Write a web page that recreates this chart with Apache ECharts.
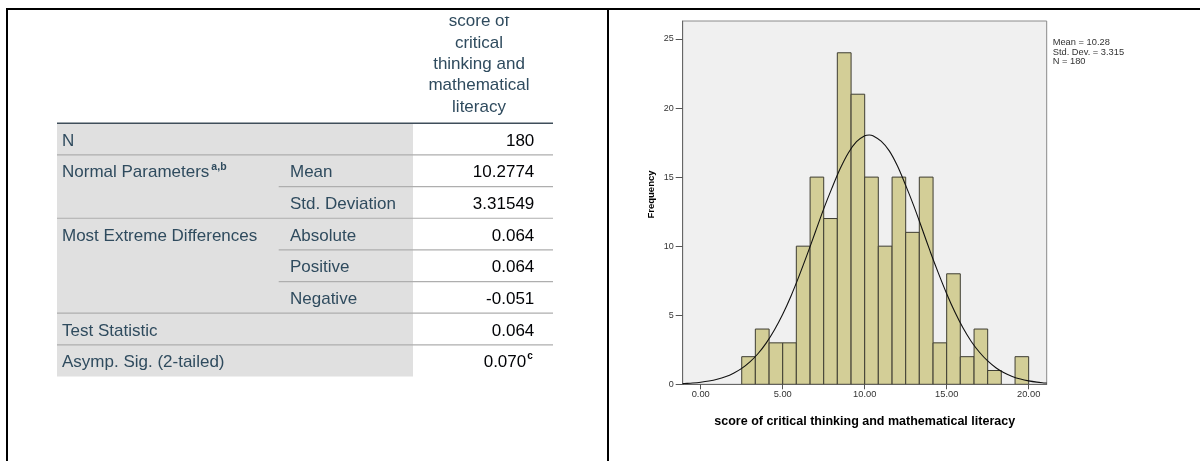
<!DOCTYPE html>
<html>
<head>
<meta charset="utf-8">
<script src="https://cdn.jsdelivr.net/npm/echarts@6/dist/echarts.min.js"></script>
<style>
  html, body { margin: 0; padding: 0; background: #fff; }
  #chart { width: 1200px; height: 461px; }
</style>
</head>
<body>
<div id="chart"></div>
<script>
// ---------- Table data ----------
const headerLines = ['score of', 'critical', 'thinking and', 'mathematical', 'literacy'];
const rowLabels = ['N', 'Normal Parameters', '', 'Most Extreme Differences', '', '', 'Test Statistic', 'Asymp. Sig. (2-tailed)'];
const rowLabelSup = ['', 'a,b', '', '', '', '', '', ''];
const subLabels = ['', 'Mean', 'Std. Deviation', 'Absolute', 'Positive', 'Negative', '', ''];
const rowValues = ['180', '10.2774', '3.31549', '0.064', '0.064', '-0.051', '0.064', '0.070'];
const rowValueSup = ['', '', '', '', '', '', '', 'c'];
const rowLineType = ['full', 'sub', 'full', 'sub', 'sub', 'full', 'full', 'none'];

// ---------- Histogram data ----------
const binEdges = [2.5, 3.33, 4.17, 5.0, 5.83, 6.67, 7.5, 8.33, 9.17, 10.0, 10.83, 11.67,
                  12.5, 13.33, 14.17, 15.0, 15.83, 16.67, 17.5, 18.33, 19.17, 20.0];
const binCounts = [2, 4, 3, 3, 10, 15, 12, 24, 21, 15, 10, 15, 11, 15, 3, 8, 2, 4, 1, 0, 2];
const curveX = [-1.1, -1, -0.5, 0, 0.5, 1, 1.5, 2, 2.5, 3, 3.5, 4, 4.5, 5, 5.5, 6, 6.5, 7, 7.5, 8, 8.5, 9, 9.5,
                10, 10.28, 10.5, 11, 11.5, 12, 12.5, 13, 13.5, 14, 14.5, 15, 15.5, 16, 16.5, 17, 17.5, 18, 18.5,
                19, 19.5, 20, 20.5, 21, 21.1];
const curveY = [0.047, 0.055, 0.091, 0.147, 0.233, 0.36, 0.54, 0.80, 1.15, 1.62, 2.23, 3.0, 3.95, 5.07, 6.38,
                7.85, 9.42, 11.06, 12.7, 14.2, 15.6, 16.75, 17.56, 17.99, 18.05, 18.0, 17.6, 16.9, 15.8, 14.4,
                12.9, 11.26, 9.6, 8.03, 6.56, 5.23, 4.07, 3.1, 2.32, 1.69, 1.2, 0.83, 0.57, 0.377, 0.245,
                0.156, 0.097, 0.084];
const xTickValues = [0, 5, 10, 15, 20];
const yTickValues = [0, 5, 10, 15, 20, 25];
const statsLines = ['Mean = 10.28', 'Std. Dev. = 3.315', 'N = 180'];
const xAxisTitle = 'score of critical thinking and mathematical literacy';
const yAxisTitle = 'Frequency';

// ---------- Build table graphics ----------
const FONT = '"Liberation Sans", Arial, sans-serif';
const T = { left: 57, right: 553, valLeft: 413, subLeft: 278.7, headBottom: 123.3, rowH: 31.65,
            col1X: 62, col2X: 290, valRight: 534.3, headCX: 479 };
const labelColor = '#2f4b5e';
const g = [];

// gray label area
g.push({ type: 'rect', shape: { x: T.left, y: T.headBottom, width: T.valLeft - T.left, height: T.rowH * rowLabels.length },
         style: { fill: '#e0e0e0' }, z: 1 });

// header text
headerLines.forEach((s, i) => {
  g.push({ type: 'text', x: T.headCX, y: 21.7 + i * 21.3, z: 3,
    style: { text: s, fill: labelColor, font: '17px ' + FONT, align: 'center', verticalAlign: 'middle' } });
});
// clip top of header (cut-off look)
g.push({ type: 'rect', shape: { x: 410, y: 10, width: 140, height: 6.5 }, style: { fill: '#fff' }, z: 4 });

// header bottom line
g.push({ type: 'line', shape: { x1: T.left, y1: T.headBottom, x2: T.right, y2: T.headBottom },
         style: { stroke: '#3f4e5a', lineWidth: 1.5 }, z: 3 });

rowLabels.forEach((lab, i) => {
  const top = T.headBottom + i * T.rowH;
  const cy = top + T.rowH / 2 + 2;
  if (lab) {
    g.push({ type: 'text', x: T.col1X, y: cy, z: 3,
      style: { text: rowLabelSup[i] ? '{m|' + lab + '}{s|' + rowLabelSup[i] + '}' : '{m|' + lab + '}',
        align: 'left', verticalAlign: 'middle',
        rich: { m: { font: '17px ' + FONT, fill: labelColor, lineHeight: 22 },
                s: { font: 'bold 10.5px ' + FONT, fill: labelColor, verticalAlign: 'top', lineHeight: 10, padding: [0, 0, 0, 2] } } } });
  }
  if (subLabels[i]) {
    g.push({ type: 'text', x: T.col2X, y: cy, z: 3,
      style: { text: subLabels[i], fill: labelColor, font: '17px ' + FONT, align: 'left', verticalAlign: 'middle' } });
  }
  g.push({ type: 'text', x: rowValueSup[i] ? T.valRight - 1.5 : T.valRight, y: cy, z: 3,
    style: { text: rowValueSup[i] ? '{m|' + rowValues[i] + '}{s|' + rowValueSup[i] + '}' : '{m|' + rowValues[i] + '}',
      align: 'right', verticalAlign: 'middle',
      rich: { m: { font: '17px ' + FONT, fill: '#010205', lineHeight: 22 },
              s: { font: 'bold 10px ' + FONT, fill: '#010205', verticalAlign: 'top', lineHeight: 10, padding: [0, 0, 0, 1] } } } });
  const by = top + T.rowH;
  if (rowLineType[i] === 'full') {
    g.push({ type: 'line', shape: { x1: T.left, y1: by, x2: T.right, y2: by }, style: { stroke: '#aeaeae', lineWidth: 1.2 }, z: 3 });
  } else if (rowLineType[i] === 'sub') {
    g.push({ type: 'line', shape: { x1: T.subLeft, y1: by, x2: T.right, y2: by }, style: { stroke: '#aeaeae', lineWidth: 1.2 }, z: 3 });
  }
});

// frame lines of the page
g.push({ type: 'line', shape: { x1: 6, y1: 9, x2: 1200, y2: 9 }, style: { stroke: '#000', lineWidth: 2 }, z: 10 });
g.push({ type: 'line', shape: { x1: 7, y1: 8, x2: 7, y2: 461 }, style: { stroke: '#000', lineWidth: 2 }, z: 10 });
g.push({ type: 'line', shape: { x1: 608, y1: 8, x2: 608, y2: 461 }, style: { stroke: '#000', lineWidth: 2 }, z: 10 });

// stats text
statsLines.forEach((s, i) => {
  g.push({ type: 'text', x: 1052.7, y: 42.7 + i * 9.5, z: 3,
    style: { text: s, fill: '#333', font: '9.3px ' + FONT, align: 'left', verticalAlign: 'middle' } });
});
// y axis title
g.push({ type: 'text', x: 651, y: 194.5, rotation: Math.PI / 2, z: 3,
  style: { text: yAxisTitle, fill: '#000', font: 'bold 9.5px ' + FONT, align: 'center', verticalAlign: 'middle' } });

// ---------- Histogram ----------
const barData = binCounts.map((c, i) => [binEdges[i], binEdges[i + 1], c]);
const curveData = curveX.map((x, i) => [x, curveY[i]]);

const chart = echarts.init(document.getElementById('chart'), null, { renderer: 'canvas' });
chart.setOption({
  animation: false,
  backgroundColor: '#fff',
  grid: { left: 682.7, top: 21, right: 153.3, bottom: 76.7, show: true, backgroundColor: '#f0f0f0',
          borderColor: '#8a8a8a', borderWidth: 1, containLabel: false },
  xAxis: {
    type: 'value', min: -1.1, max: 21.1,
    name: xAxisTitle, nameLocation: 'middle', nameGap: 31,
    nameTextStyle: { fontFamily: FONT, fontWeight: 'bold', fontSize: 12.5, color: '#000' },
    axisLine: { show: true, onZero: false, lineStyle: { color: '#666', width: 1 } },
    axisTick: { show: true, length: 5, customValues: xTickValues, lineStyle: { color: '#555' } },
    axisLabel: { customValues: xTickValues, formatter: v => v.toFixed(2), margin: 6,
                 fontFamily: FONT, fontSize: 9.3, color: '#333' },
    splitLine: { show: false }
  },
  yAxis: {
    type: 'value', min: 0, max: 26.3,
    axisLine: { show: true, onZero: false, lineStyle: { color: '#666', width: 1 } },
    axisTick: { show: true, length: 7, customValues: yTickValues, lineStyle: { color: '#555' } },
    axisLabel: { customValues: yTickValues, margin: 9, fontFamily: FONT, fontSize: 9, color: '#333' },
    splitLine: { show: false }
  },
  graphic: { elements: g },
  series: [
    {
      type: 'custom',
      data: barData,
      encode: { x: [0, 1], y: 2 },
      clip: true,
      renderItem: function (params, api) {
        const c = api.value(2);
        if (!c) return null;
        const p0 = api.coord([api.value(0), c]);
        const p1 = api.coord([api.value(1), 0]);
        return { type: 'rect',
          shape: { x: p0[0], y: p0[1], width: p1[0] - p0[0], height: p1[1] - p0[1] },
          style: { fill: '#d3ce97', stroke: '#3e3d32', lineWidth: 1 } };
      },
      z: 2
    },
    {
      type: 'line',
      data: curveData,
      smooth: 0.3,
      showSymbol: false,
      symbol: 'none',
      clip: true,
      lineStyle: { color: '#111', width: 1.1 },
      z: 3
    }
  ]
});
</script>
</body>
</html>
